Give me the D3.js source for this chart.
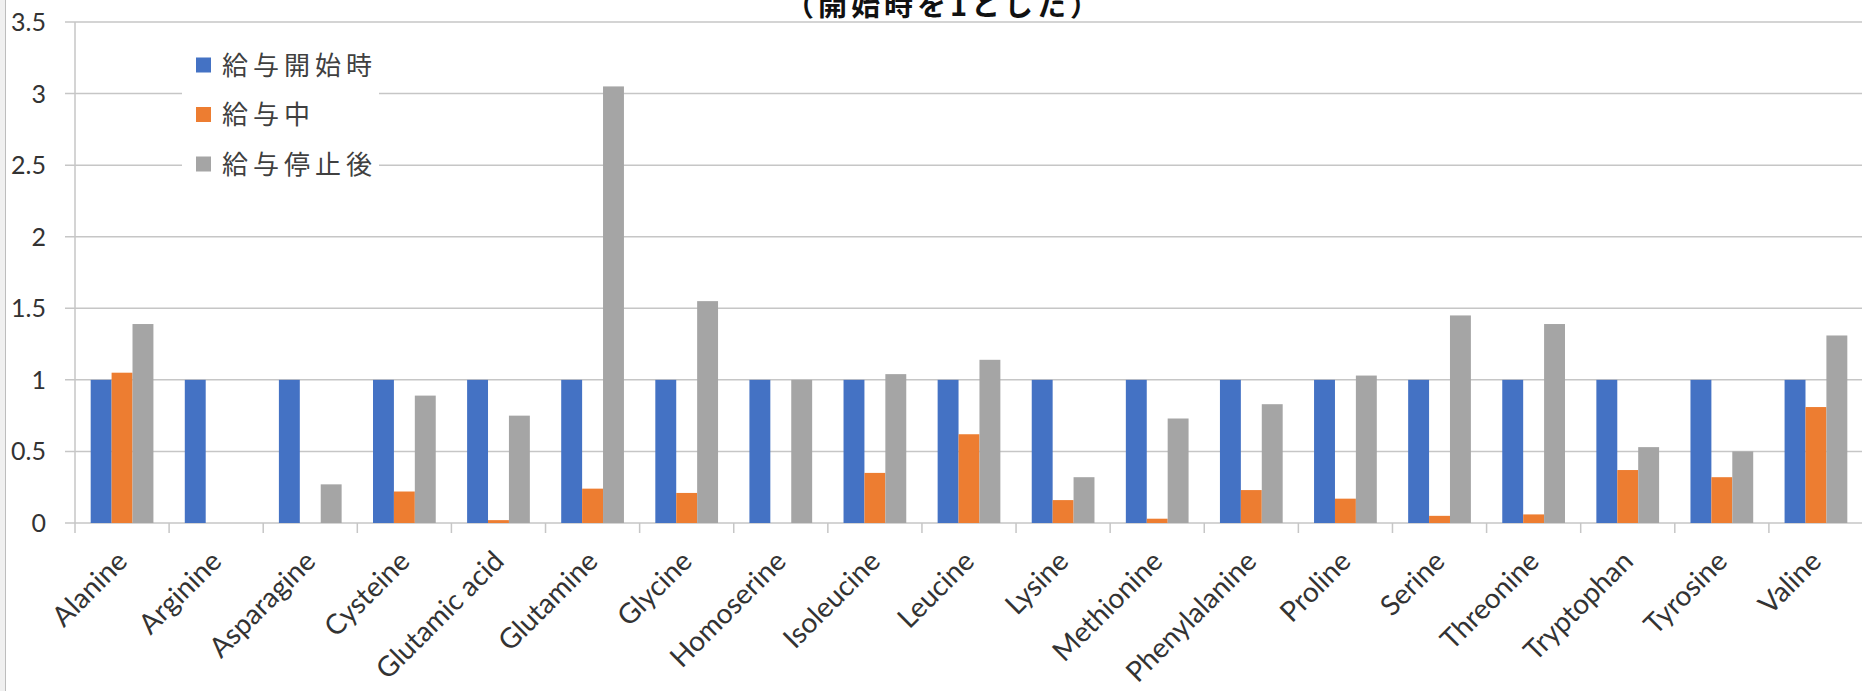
<!DOCTYPE html>
<html>
<head>
<meta charset="utf-8">
<script src="https://cdn.jsdelivr.net/npm/d3@7"></script>
<style>
  html, body { margin: 0; padding: 0; background: #fff; }
  svg { display: block; }
</style>
</head>
<body>
<svg id="chart"></svg>
<script>
// Amino acids on the x axis
const categories = ["Alanine", "Arginine", "Asparagine", "Cysteine", "Glutamic acid", "Glutamine",
    "Glycine", "Homoserine", "Isoleucine", "Leucine", "Lysine", "Methionine", "Phenylalanine",
    "Proline", "Serine", "Threonine", "Tryptophan", "Tyrosine", "Valine"];

const seriesNames = ["給与開始時", "給与中", "給与停止後"];

// values relative to the start (start = 1)
const startValues = [1, 1, 1, 1, 1, 1, 1, 1, 1, 1, 1, 1, 1, 1, 1, 1, 1, 1, 1];
const duringValues = [1.05, 0, 0, 0.22, 0.02, 0.24, 0.21, 0, 0.35, 0.62, 0.16, 0.03, 0.23, 0.17, 0.05, 0.06, 0.37, 0.32, 0.81];
const afterValues = [1.39, 0, 0.27, 0.89, 0.75, 3.05, 1.55, 1.0, 1.04, 1.14, 0.32, 0.73, 0.83, 1.03, 1.45, 1.39, 0.53, 0.50, 1.31];

const yTicks = [0, 0.5, 1, 1.5, 2, 2.5, 3, 3.5];
const colors = ["#4472C4", "#ED7D31", "#A5A5A5"];

function createChart() {
    const width = 1862;
    const height = 691;

    const svg = d3.select("#chart")
        .attr("width", width)
        .attr("height", height)
        .attr("viewBox", [0, 0, width, height]);

    // left frame edge of the original window
    svg.append("rect")
        .attr("x", 0).attr("y", 0)
        .attr("width", 5).attr("height", height)
        .attr("fill", "#f0f0f0");
    svg.append("line")
        .attr("x1", 5.5).attr("x2", 5.5)
        .attr("y1", 0).attr("y2", height)
        .attr("stroke", "#bdbdbd");

    const series = [startValues, duringValues, afterValues];
    const rows = categories.map((c, i) => ({
        name: c,
        values: series.map((s, j) => ({ key: seriesNames[j], value: s[i] }))
    }));

    // Scales
    const x0 = d3.scaleBand()
        .domain(categories)
        .range([75, 1863])
        .paddingInner(1 / 3)
        .paddingOuter(1 / 6);

    const x1 = d3.scaleBand()
        .domain(seriesNames)
        .range([0, x0.bandwidth()]);

    const y = d3.scaleLinear()
        .domain([0, 3.5])
        .range([523, 22]);

    const color = d3.scaleOrdinal(seriesNames, colors);

    // Gridlines
    svg.append("g")
        .selectAll("line")
        .data(yTicks)
        .join("line")
        .attr("x1", 65)
        .attr("x2", width)
        .attr("y1", d => y(d))
        .attr("y2", d => y(d))
        .attr("stroke", "#c6c6c6")
        .attr("stroke-width", 1.5);

    // value axis line
    svg.append("line")
        .attr("x1", 75).attr("x2", 75)
        .attr("y1", y(3.5)).attr("y2", y(0))
        .attr("stroke", "#c6c6c6")
        .attr("stroke-width", 1.5);

    // y tick labels
    svg.append("g")
        .selectAll("text")
        .data(yTicks)
        .join("text")
        .attr("x", 46)
        .attr("y", d => y(d))
        .attr("dy", "0.36em")
        .attr("text-anchor", "end")
        .style("font-family", "Lato, 'Open Sans', sans-serif")
        .style("font-size", "25px")
        .attr("fill", "#333")
        .text(d => d);

    // Bars
    svg.append("g")
        .selectAll("g")
        .data(rows)
        .join("g")
        .attr("transform", d => `translate(${x0(d.name)},0)`)
        .selectAll("rect")
        .data(d => d.values)
        .join("rect")
        .attr("x", d => x1(d.key))
        .attr("y", d => y(d.value))
        .attr("width", x1.bandwidth())
        .attr("height", d => y(0) - y(d.value))
        .attr("fill", d => color(d.key));

    // category tick marks (between groups)
    const step = x0.step();
    const gap = (step - x0.bandwidth()) / 2;
    svg.append("g")
        .selectAll("line")
        .data(categories.concat(["end"]))
        .join("line")
        .attr("x1", (d, i) => i < categories.length ? x0(d) - gap : x0(categories[i - 1]) + x0.bandwidth() + gap)
        .attr("x2", (d, i) => i < categories.length ? x0(d) - gap : x0(categories[i - 1]) + x0.bandwidth() + gap)
        .attr("y1", y(0))
        .attr("y2", y(0) + 10)
        .attr("stroke", "#c6c6c6")
        .attr("stroke-width", 1.5);

    // category labels, rotated
    svg.append("g")
        .selectAll("text")
        .data(categories)
        .join("text")
        .attr("transform", d => `translate(${x0(d) + x0.bandwidth() / 2 + 7},563) rotate(-45)`)
        .attr("text-anchor", "end")
        .style("font-family", "Lato, 'Open Sans', sans-serif")
        .style("font-size", "28px")
        .attr("fill", "#333")
        .text(d => d);

    // Legend
    const legend = svg.append("g");
    legend.append("rect")
        .attr("x", 182).attr("y", 38)
        .attr("width", 197).attr("height", 152)
        .attr("fill", "#fff");

    const legendRow = legend.selectAll("g")
        .data(seriesNames)
        .join("g")
        .attr("transform", (d, i) => `translate(196,${65 + i * 49.5})`);

    legendRow.append("rect")
        .attr("x", 0).attr("y", -7.5)
        .attr("width", 15).attr("height", 15)
        .attr("fill", d => color(d));

    legendRow.append("text")
        .attr("x", 26)
        .attr("y", 9.5)
        .style("font-family", "'Noto Sans CJK JP', sans-serif")
        .style("font-size", "26px")
        .style("letter-spacing", "5px")
        .attr("fill", "#404040")
        .text(d => d);

    // Title (only the lower line is visible in the reference)
    svg.append("text")
        .attr("x", 944)
        .attr("y", 16)
        .attr("text-anchor", "middle")
        .style("font-family", "'Noto Sans CJK JP', sans-serif")
        .style("font-size", "29px")
        .style("font-weight", "bold")
        .style("letter-spacing", "4px")
        .attr("fill", "#111")
        .text("（開始時を1とした）");
}

createChart();
</script>
</body>
</html>
